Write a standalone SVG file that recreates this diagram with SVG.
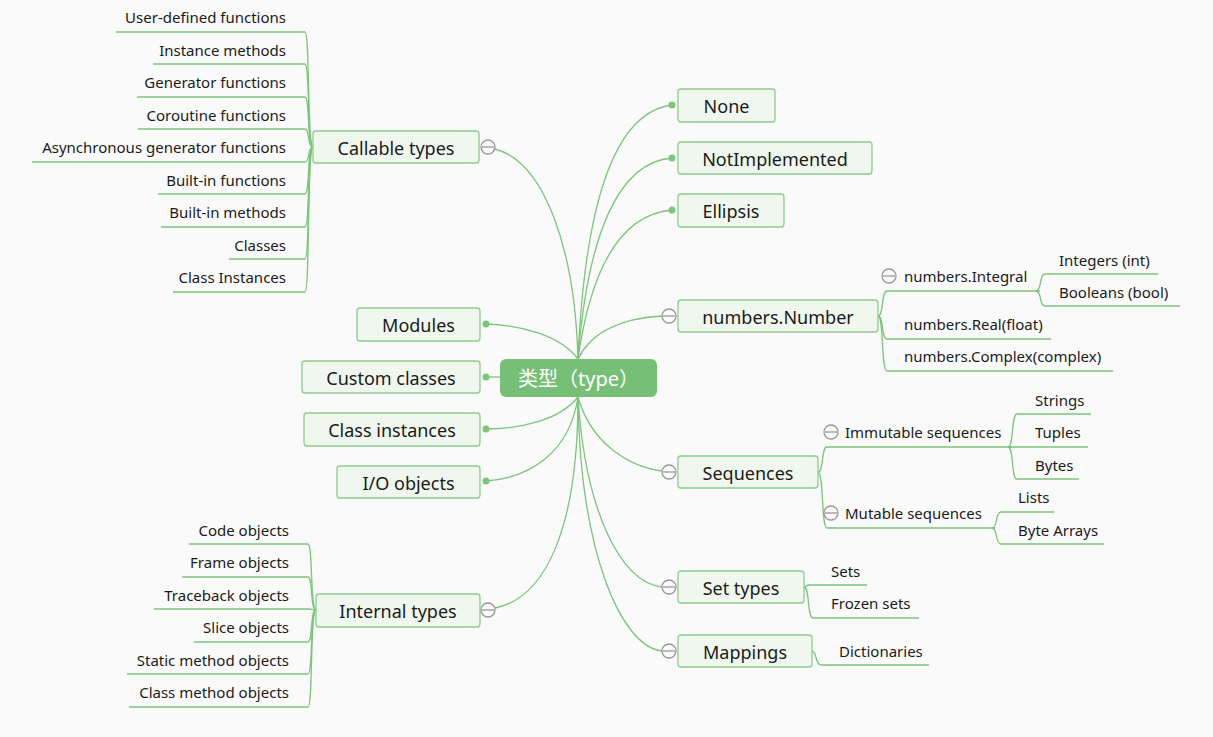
<svg xmlns="http://www.w3.org/2000/svg" width="1213" height="737" viewBox="0 0 1213 737">
<style>
text{font-family:"Noto Sans","Noto Sans CJK SC",sans-serif;fill:#1a1a1a}
.t{font-size:18px;text-anchor:middle}
.l{font-size:15px}
.r{font-size:15px;text-anchor:end}
.box{fill:#f0f7ef;stroke:#8fcc8f;stroke-width:1.3}
.c path{fill:none;stroke:#7dc47d;stroke-width:1.3}
.dot{fill:#7dc47d}
.col circle{fill:#fafafa;stroke:#999;stroke-width:1.3}
.col line{stroke:#999;stroke-width:1.3}
</style>
<rect width="1213" height="737" fill="#fafafa"/>
<g class="c" id="connectors">
<path d="M578,359 C575,250 545,162 495,149"/>
<path d="M578,359 C585,200 615,112 672,105"/>
<path d="M578,359 C588,230 620,162 672,158"/>
<path d="M578,359 C592,260 625,214 672,210"/>
<path d="M578,359 C592,330 625,318 662,316"/>
<path d="M578,397 C590,440 625,466 662,471"/>
<path d="M578,397 C585,510 620,582 662,587"/>
<path d="M578,397 C580,550 620,646 662,651"/>
<path d="M578,397 C578,530 545,598 495,608"/>
<path d="M578,359 C560,335 520,325 486,324"/>
<path d="M500,377 L486,377"/>
<path d="M578,397 C560,420 520,429 486,429"/>
<path d="M578,397 C570,452 530,478 486,481"/>
<!-- callable leaves -->
<path d="M313,147 C307,147 310,32 305,32 L116,32"/>
<path d="M313,147 C307,147 310,64 305,64 L153,64"/>
<path d="M313,147 C307,147 310,97 305,97 L137,97"/>
<path d="M313,147 C307,147 310,129 305,129 L138,129"/>
<path d="M313,147 C307,147 310,162 305,162 L32,162"/>
<path d="M313,147 C307,147 310,194 305,194 L158,194"/>
<path d="M313,147 C307,147 310,227 305,227 L161,227"/>
<path d="M313,147 C307,147 310,259 305,259 L229,259"/>
<path d="M313,147 C307,147 310,292 305,292 L173,292"/>
<!-- internal leaves -->
<path d="M316,610 C310,610 313,544 308,544 L189,544"/>
<path d="M316,610 C310,610 313,577 308,577 L182,577"/>
<path d="M316,610 C312,610 313,609 308,609 L154,609"/>
<path d="M316,610 C310,610 313,642 308,642 L194,642"/>
<path d="M316,610 C310,610 313,674 308,674 L127,674"/>
<path d="M316,610 C310,610 313,707 308,707 L129,707"/>
<!-- numbers -->
<path d="M878,316 C884,316 881,291 887,291 L1040,291"/>
<path d="M878,316 C884,316 881,339 887,339 L1051,339"/>
<path d="M878,316 C884,316 881,371 887,371 L1113,371"/>
<path d="M1036,291 C1042,291 1039,274 1045,274 L1158,274"/>
<path d="M1036,291 C1042,291 1039,306 1045,306 L1180,306"/>
<!-- sequences -->
<path d="M818,472 C824,472 821,447 827,447 L1012,447"/>
<path d="M818,472 C824,472 821,528 827,528 L995,528"/>
<path d="M1008,447 C1014,447 1011,414 1017,414 L1091,414"/>
<path d="M1008,447 L1088,447"/>
<path d="M1008,447 C1014,447 1011,479 1017,479 L1079,479"/>
<path d="M992,528 C998,528 995,512 1001,512 L1054,512"/>
<path d="M992,528 C998,528 995,544 1001,544 L1104,544"/>
<!-- set types / mappings -->
<path d="M804,587 C807,587 806,585 810,585 L867,585"/>
<path d="M804,587 C810,587 807,618 813,618 L919,618"/>
<path d="M812,651 C817,651 815,665 821,665 L929,665"/>
</g>
<g id="center">
<rect x="500" y="359" width="157" height="38" rx="6" fill="#76bf76"/>
<text x="578.5" y="386" style="font-size:20px;text-anchor:middle;fill:#fff">类型（type）</text>
</g>
<g id="callable">
<rect class="box" x="313" y="131" width="166" height="32" rx="3"/>
<text class="t" x="396" y="155">Callable types</text>
<g class="col"><circle cx="488" cy="147" r="7"/><line x1="482" y1="147" x2="494" y2="147"/></g>
</g>
<g id="callable-leaves">
<text class="r" x="286" y="23">User-defined functions</text>
<text class="r" x="286" y="56">Instance methods</text>
<text class="r" x="286" y="88">Generator functions</text>
<text class="r" x="286" y="121">Coroutine functions</text>
<text class="r" x="286" y="153">Asynchronous generator functions</text>
<text class="r" x="286" y="186">Built-in functions</text>
<text class="r" x="286" y="218">Built-in methods</text>
<text class="r" x="286" y="251">Classes</text>
<text class="r" x="286" y="283">Class Instances</text>
</g>
<g id="modules">
<rect class="box" x="357" y="308" width="123" height="33" rx="3"/>
<text class="t" x="418.5" y="332">Modules</text>
<circle class="dot" cx="486" cy="324" r="3.5"/>
</g>
<g id="custom-classes">
<rect class="box" x="302" y="361" width="178" height="32" rx="3"/>
<text class="t" x="391" y="385">Custom classes</text>
<circle class="dot" cx="486" cy="377" r="3.5"/>
</g>
<g id="class-instances">
<rect class="box" x="304" y="413" width="176" height="33" rx="3"/>
<text class="t" x="392" y="437">Class instances</text>
<circle class="dot" cx="486" cy="429" r="3.5"/>
</g>
<g id="io-objects">
<rect class="box" x="337" y="466" width="143" height="32" rx="3"/>
<text class="t" x="408.5" y="490">I/O objects</text>
<circle class="dot" cx="486" cy="481" r="3.5"/>
</g>
<g id="internal">
<rect class="box" x="316" y="594" width="164" height="33" rx="3"/>
<text class="t" x="398" y="618">Internal types</text>
<g class="col"><circle cx="488" cy="610" r="7"/><line x1="482" y1="610" x2="494" y2="610"/></g>
</g>
<g id="internal-leaves">
<text class="r" x="289" y="536">Code objects</text>
<text class="r" x="289" y="568">Frame objects</text>
<text class="r" x="289" y="601">Traceback objects</text>
<text class="r" x="289" y="633">Slice objects</text>
<text class="r" x="289" y="666">Static method objects</text>
<text class="r" x="289" y="698">Class method objects</text>
</g>
<g id="none">
<rect class="box" x="678" y="89" width="97" height="33" rx="3"/>
<text class="t" x="726.5" y="113">None</text>
<circle class="dot" cx="672" cy="105" r="3.5"/>
</g>
<g id="notimplemented">
<rect class="box" x="678" y="142" width="194" height="32" rx="3"/>
<text class="t" x="775" y="166">NotImplemented</text>
<circle class="dot" cx="672" cy="158" r="3.5"/>
</g>
<g id="ellipsis">
<rect class="box" x="678" y="194" width="106" height="33" rx="3"/>
<text class="t" x="731" y="218">Ellipsis</text>
<circle class="dot" cx="672" cy="210" r="3.5"/>
</g>
<g id="numbers">
<rect class="box" x="678" y="300" width="200" height="32" rx="3"/>
<text class="t" x="778" y="324">numbers.Number</text>
<g class="col"><circle cx="669" cy="316" r="7"/><line x1="663" y1="316" x2="675" y2="316"/></g>
</g>
<g id="numbers-leaves">
<g class="col"><circle cx="889" cy="276" r="7"/><line x1="883" y1="276" x2="895" y2="276"/></g>
<text class="l" x="904" y="282">numbers.Integral</text>
<text class="l" x="1059" y="266">Integers (int)</text>
<text class="l" x="1059" y="298">Booleans (bool)</text>
<text class="l" x="904" y="330">numbers.Real(float)</text>
<text class="l" x="904" y="362">numbers.Complex(complex)</text>
</g>
<g id="sequences">
<rect class="box" x="678" y="456" width="140" height="32" rx="3"/>
<text class="t" x="748" y="480">Sequences</text>
<g class="col"><circle cx="669" cy="472" r="7"/><line x1="663" y1="472" x2="675" y2="472"/></g>
</g>
<g id="sequences-leaves">
<g class="col"><circle cx="831" cy="432" r="7"/><line x1="825" y1="432" x2="837" y2="432"/></g>
<text class="l" x="845" y="438">Immutable sequences</text>
<text class="l" x="1035" y="406">Strings</text>
<text class="l" x="1035" y="438">Tuples</text>
<text class="l" x="1035" y="471">Bytes</text>
<g class="col"><circle cx="831" cy="513" r="7"/><line x1="825" y1="513" x2="837" y2="513"/></g>
<text class="l" x="845" y="519">Mutable sequences</text>
<text class="l" x="1018" y="503">Lists</text>
<text class="l" x="1018" y="536">Byte Arrays</text>
</g>
<g id="set-types">
<rect class="box" x="678" y="571" width="126" height="32" rx="3"/>
<text class="t" x="741" y="595">Set types</text>
<g class="col"><circle cx="669" cy="587" r="7"/><line x1="663" y1="587" x2="675" y2="587"/></g>
<text class="l" x="831" y="577">Sets</text>
<text class="l" x="831" y="609">Frozen sets</text>
</g>
<g id="mappings">
<rect class="box" x="678" y="635" width="134" height="32" rx="3"/>
<text class="t" x="745" y="659">Mappings</text>
<g class="col"><circle cx="669" cy="651" r="7"/><line x1="663" y1="651" x2="675" y2="651"/></g>
<text class="l" x="839" y="657">Dictionaries</text>
</g>
</svg>
